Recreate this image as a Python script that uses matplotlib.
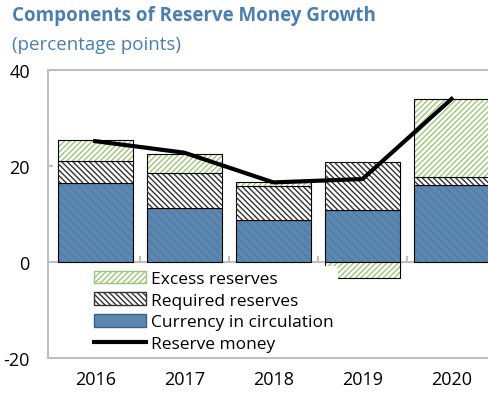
import numpy as np
import matplotlib.pyplot as plt
from matplotlib.patches import Patch
from matplotlib.lines import Line2D

years = ['2016', '2017', '2018', '2019', '2020']
currency = [16.4, 11.3, 8.8, 10.8, 16.0]
required = [4.6, 7.2, 7.1, 10.0, 1.8]
excess = [4.5, 4.1, 0.7, -3.4, 16.2]
reserve_money = [25.2, 22.8, 16.6, 17.3, 34.0]

plt.rcParams['font.family'] = ['Open Sans', 'DejaVu Sans']
plt.rcParams['hatch.linewidth'] = 1.0
plt.rcParams['axes.unicode_minus'] = False

fig = plt.figure(figsize=(4.89, 4.02), dpi=100)
ax = fig.add_axes([0.098, 0.107, 0.902, 0.716])

x = np.arange(len(years))
w = 0.84
cur = np.array(currency)
req = np.array(required)
exc = np.array(excess)

blue = '#5b87b0'
exc_hatch = '//////'
req_hatch = '\\\\\\\\\\\\'
ax.bar(x, cur, w, color=blue, edgecolor='#527ba3', hatch='\\\\\\\\',
       linewidth=0, zorder=2)
ax.bar(x, cur, w, color='none', edgecolor='black', linewidth=0.8, zorder=2)
ax.bar(x, req, w, bottom=cur, color='white', edgecolor='black', linewidth=0.8,
       zorder=2)
ax.bar(x, req, w, bottom=cur, color='none', edgecolor='#333333', hatch=req_hatch,
       linewidth=0, zorder=2)
# excess sits on top when positive, below zero when negative
exc_bottom = np.where(exc >= 0, cur + req, 0)
ax.bar(x, exc, w, bottom=exc_bottom, color='white', edgecolor='#9cc77a',
       hatch=exc_hatch, linewidth=0, zorder=2)
ax.bar(x, exc, w, bottom=exc_bottom, color='none', edgecolor='black',
       linewidth=0.8, zorder=2)
ax.plot(x, reserve_money, color='black', lw=3, zorder=3)

ax.set_xlim(-0.53, 4.42)
ax.set_ylim(-20, 40)
ax.set_yticks([-20, 0, 20, 40])
ax.set_xticks(x)
ax.set_xticklabels(years)
ax.tick_params(axis='both', labelsize=13, length=0, pad=9)
ax.tick_params(axis='y', pad=13)

for s in ['top', 'right']:
    ax.spines[s].set_visible(False)
for s in ['left', 'bottom']:
    ax.spines[s].set_color('#bfbfbf')
    ax.spines[s].set_linewidth(1.5)
ax.axhline(0, color='#bfbfbf', lw=1.5, zorder=1)
ax.axhline(40, color='#bfbfbf', lw=1.5, zorder=1, clip_on=False)
ax.hlines(20, -0.53, -0.47, color='#bfbfbf', lw=1.5)
ax.vlines(x[:-1] + 0.5, 0, 1.2, color='#bfbfbf', lw=1.5, zorder=1)

handles = [
    Patch(facecolor='white', edgecolor='#9cc77a', hatch=exc_hatch, label='Excess reserves'),
    Patch(facecolor='white', edgecolor='#333333', hatch=req_hatch, label='Required reserves'),
    Patch(facecolor=blue, edgecolor='#3a5f85', label='Currency in circulation'),
    Line2D([0], [0], color='black', lw=3, label='Reserve money'),
]
leg = ax.legend(handles=handles, loc='lower left', bbox_to_anchor=(0.09, 0.0),
                frameon=True, facecolor='white', edgecolor='none', framealpha=1,
                fontsize=12.5, handlelength=3.0, handleheight=0.75, labelspacing=0.3,
                handletextpad=0.3, borderpad=0.25, borderaxespad=0.1)
leg.set_zorder(4)

fig.text(0.025, 0.96, 'Components of Reserve Money Growth', color='#4a7fb0',
         fontsize=13.5, fontweight='bold', va='center')
fig.text(0.025, 0.888, '(percentage points)', color='#4a7fb0', fontsize=13.5,
         va='center')

fig.savefig('out.png', dpi=100, facecolor='white')
